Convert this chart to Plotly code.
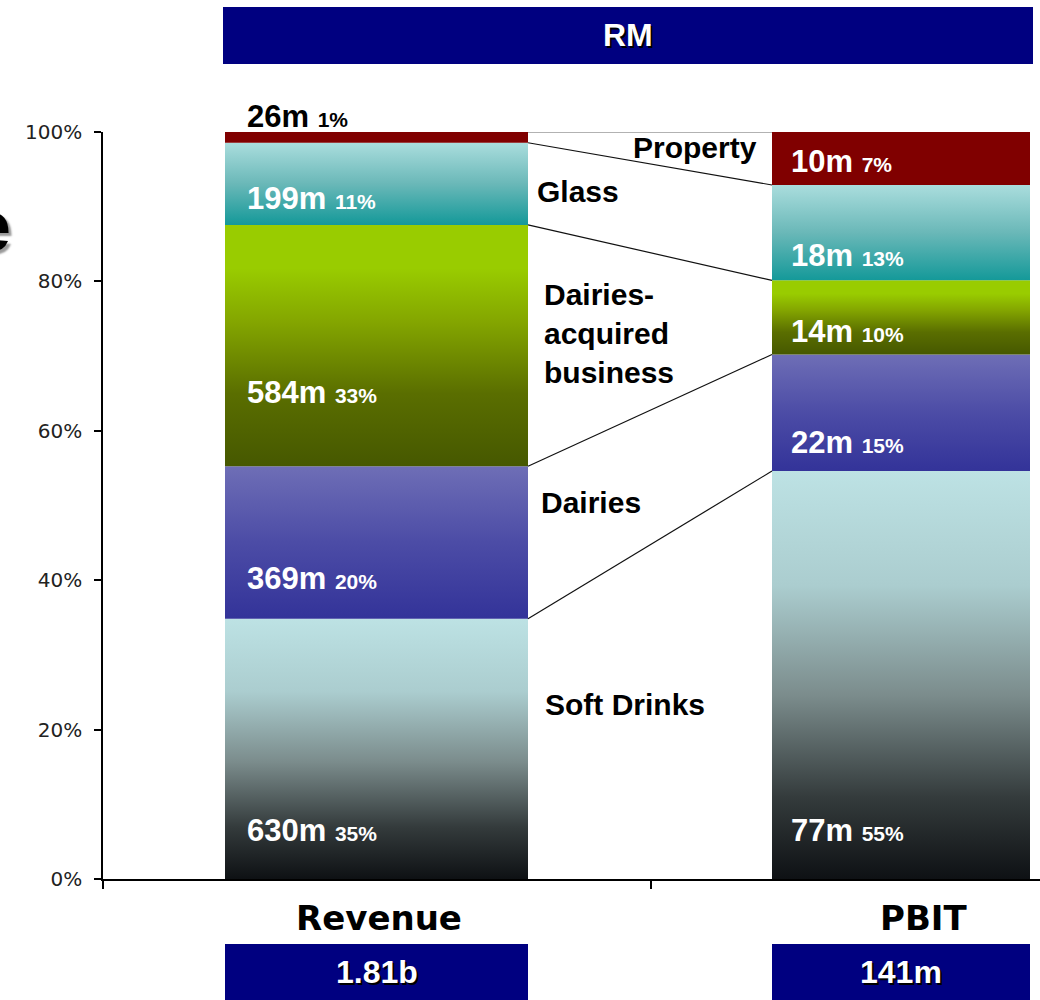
import plotly.graph_objects as go

# ---------------- data ----------------
categories = ["Revenue", "PBIT"]
segments = ["Soft Drinks", "Dairies", "Dairies-\nacquired\nbusiness", "Glass", "Property"]
revenue_m = [630, 369, 584, 199, 26]
pbit_m = [77, 22, 14, 18, 10]
revenue_pct_labels = [35, 20, 33, 11, 1]
pbit_pct_labels = [55, 15, 10, 13, 7]
totals = ["1.81b", "141m"]
header = "RM"
y_ticks = [0, 20, 40, 60, 80, 100]

# ---------------- styling / layout ----------------
W, H = 1040, 1000
ML, MR, MT, MB = 103, 0, 132, 121
PW, PH = W - ML - MR, H - MT - MB
CAT_PX = 548.0  # pixels per category unit on the x axis
XMAX = PW / CAT_PX


def xu(px):
    return (px - ML) / CAT_PX


def xp(px):
    return (px - ML) / PW


def yp(py):
    return (H - MB - py) / PH


bar_geom = {"Revenue": (xu(225), xu(528)), "PBIT": (xu(772), xu(1030))}

scales = [
    [[0, "#0e1114"], [0.2, "#343b3c"], [0.45, "#7b8c8c"], [0.72, "#abcdcf"], [1, "#bde2e4"]],
    [[0, "#333399"], [0.5, "#4c4ca6"], [1, "#6e6eb6"]],
    [[0, "#465800"], [0.3, "#5a6e00"], [0.6, "#84a600"], [0.82, "#99cc00"], [1, "#99cc00"]],
    [[0, "#149999"], [0.5, "#6ab8b8"], [1, "#aadddd"]],
    [[0, "#800000"], [1, "#800000"]],
]

ARIAL = "Liberation Sans, Arial, sans-serif"
NARROW_FONT = "Liberation Sans Narrow, Liberation Sans, Arial Narrow, sans-serif"
VERDANA = "DejaVu Sans, Verdana, sans-serif"


def cum_pct(vals):
    tot = float(sum(vals))
    out, acc = [], 0.0
    for v in vals:
        b = acc
        acc += v / tot * 100.0
        out.append((b, acc))
    return out


rev_cum = cum_pct(revenue_m)
pbit_cum = cum_pct(pbit_m)

fig = go.Figure()

for cat, cum in (("Revenue", rev_cum), ("PBIT", pbit_cum)):
    l, r = bar_geom[cat]
    for i, (b, t) in enumerate(cum):
        fig.add_trace(go.Scatter(
            x=[l, r, r, l, l], y=[b, b, t, t, b],
            mode="lines", fill="toself",
            line=dict(width=0, color="rgba(0,0,0,0)"),
            fillgradient=dict(type="vertical", colorscale=scales[i]),
            hoverinfo="skip", showlegend=False,
        ))

# series connector lines
rl = bar_geom["Revenue"][1]
pl = bar_geom["PBIT"][0]
for i in range(len(segments)):
    y0 = rev_cum[i][1]
    y1 = pbit_cum[i][1]
    col = "#666666" if i == len(segments) - 1 else "#111111"
    fig.add_trace(go.Scatter(
        x=[rl, pl], y=[y0, y1], mode="lines",
        line=dict(color=col, width=1.2),
        hoverinfo="skip", showlegend=False,
    ))

annotations = []

# value labels (paper coords so labels outside the plot range still show)
rev_label_y = [830, 578, 392, 198, 117]
pbit_label_y = [830, 443, 331, 256, 161]
for i in range(len(segments)):
    col = "black" if i == len(segments) - 1 else "white"
    annotations.append(dict(
        x=xp(245), y=yp(rev_label_y[i]), xref="paper", yref="paper",
        xanchor="left", yanchor="middle", showarrow=False,
        text=f"<b>{revenue_m[i]}m <span style='font-size:21px'>{revenue_pct_labels[i]}%</span></b>",
        font=dict(family=ARIAL, size=31, color=col),
    ))
    annotations.append(dict(
        x=xp(789), y=yp(pbit_label_y[i]), xref="paper", yref="paper",
        xanchor="left", yanchor="middle", showarrow=False,
        text=f"<b>{pbit_m[i]}m <span style='font-size:21px'>{pbit_pct_labels[i]}%</span></b>",
        font=dict(family=ARIAL, size=31, color="white"),
    ))

# segment name labels
seg_pos = [(543, 704, "left"), (539, 502, "left"), (542, 333, "left"), (535, 191, "left"), (759, 147, "right")]
for name, (px, py, anc) in zip(segments, seg_pos):
    annotations.append(dict(
        x=xp(px), y=yp(py), xref="paper", yref="paper",
        xanchor=anc, yanchor="middle", showarrow=False, align="left",
        text="<b>" + name.replace("\n", "<br>") + "</b>",
        font=dict(family=ARIAL, size=30, color="black"),
    ))

# category labels
for cat, px in zip(categories, (379, 923)):
    annotations.append(dict(
        x=xp(px), y=yp(918), xref="paper", yref="paper",
        xanchor="center", yanchor="middle", showarrow=False,
        text=f"<b>{cat}</b>",
        font=dict(family=VERDANA, size=34, color="black"),
    ))

# boxes
shapes = []
boxes = [(223, 1033, 7, 64, header, 628), (225, 528, 944, 1000, totals[0], 377), (772, 1030, 944, 1000, totals[1], 901)]
for x0, x1, y0, y1, txt, cx in boxes:
    shapes.append(dict(type="rect", xref="paper", yref="paper",
                       x0=xp(x0), x1=xp(x1), y0=yp(y1), y1=yp(y0),
                       fillcolor="#000080", line=dict(width=0), layer="above"))
    annotations.append(dict(
        x=xp(cx), y=yp((y0 + y1) / 2), xref="paper", yref="paper",
        xanchor="center", yanchor="middle", showarrow=False,
        text=f"<b>{txt}</b>",
        font=dict(family=NARROW_FONT, size=32, color="white", shadow="2px 2px 0px #000000"),
    ))

# partially visible title letter at the left edge
annotations.append(dict(
    x=xp(13), y=yp(226), xref="paper", yref="paper",
    xanchor="right", yanchor="middle", showarrow=False,
    text="<b>e</b>",
    font=dict(family=ARIAL, size=72, color="black", shadow="3px 3px 2px #9a9a9a"),
))

fig.update_layout(
    width=W, height=H,
    margin=dict(l=ML, r=MR, t=MT, b=MB),
    paper_bgcolor="white", plot_bgcolor="white",
    showlegend=False,
    shapes=shapes, annotations=annotations,
    xaxis=dict(range=[0, XMAX], showgrid=False, zeroline=False,
               showline=True, linecolor="black", linewidth=1.5,
               tickvals=[0, 1], ticktext=["", ""], ticks="outside",
               ticklen=8, tickwidth=1.5, tickcolor="black", fixedrange=True),
    yaxis=dict(range=[0, 100], showgrid=False, zeroline=False,
               showline=True, linecolor="black", linewidth=1.5,
               tickvals=y_ticks, ticktext=[f"{v}%" for v in y_ticks], ticks="outside",
               ticklen=7, tickwidth=1.5, tickcolor="black",
               tickfont=dict(family=VERDANA, size=20, color="#222222"),
               ticklabelstandoff=8, fixedrange=True),
)

fig.write_html("out.html")
